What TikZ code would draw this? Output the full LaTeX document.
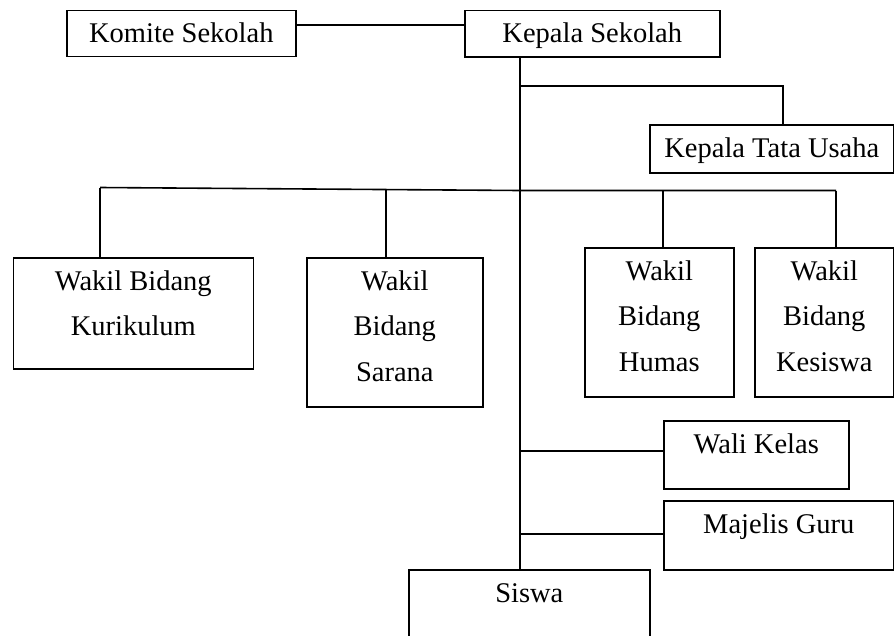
\documentclass[tikz,border=0pt]{standalone}
\usepackage{fontspec}
\setmainfont{Liberation Serif}
\begin{document}
\begin{tikzpicture}[x=1pt,y=-1pt,
  orgline/.style={line width=1.6pt,black},
  orgbox/.style={draw=black,line width=1.6pt,inner sep=0pt,anchor=north west,font=\fontsize{28.5}{45.5}\selectfont}]
\newcommand\boxtext[3]{\parbox[c][#2pt][t]{#1pt}{\centering\rule{0pt}{32.3pt}#3}}
\useasboundingbox (0,0) rectangle (894,635);
\clip (0,0) rectangle (894,635);
% boxes
\node[orgbox] (komite) at (66,9.5) {\boxtext{229}{46}{Komite Sekolah}};
\node[orgbox] (kepala) at (464,9.5) {\boxtext{255}{46.5}{Kepala Sekolah}};
\node[orgbox] (ktu) at (649,124) {\boxtext{244}{48}{Kepala Tata Usaha}};
\node[orgbox] (kur) at (12.5,257) {\boxtext{240}{111}{Wakil Bidang\\Kurikulum}};
\node[orgbox] (sar) at (306,257) {\boxtext{176}{149}{Wakil\\Bidang\\Sarana}};
\node[orgbox] (hum) at (584,247) {\boxtext{149}{149}{Wakil\\Bidang\\Humas}};
\node[orgbox] (kes) at (754,247) {\boxtext{139}{149}{Wakil\\Bidang\\Kesiswa}};
\node[orgbox] (wali) at (663,420) {\boxtext{185}{68}{Wali Kelas}};
\node[orgbox] (maj) at (663,500) {\boxtext{230}{69}{Majelis Guru}};
\node[orgbox] (sis) at (408,569) {\boxtext{241}{90}{Siswa}};
% junction coordinates
\coordinate (ktop) at ([xshift=56pt]kepala.south west);
\coordinate (jtu) at (520,86);
\coordinate (jtu2) at (783,86);
\coordinate (hl) at (100,187.5);
\coordinate (hm) at (520,190.5);
\coordinate (hs) at (386,189.5);
\coordinate (hh) at (663,190.5);
\coordinate (hk) at (836,190.5);
\coordinate (jw) at (520,451);
\coordinate (jm) at (520,534);
% connectors
\draw[orgline] ([yshift=-15.5pt]komite.north east) -- ([yshift=-15.5pt]kepala.north west);
\draw[orgline] (ktop) -- (ktop |- sis.north);
\draw[orgline] (jtu) -- (jtu2) -- (jtu2 |- ktu.north);
\draw[orgline] (hl) -- (hm) -- (hk);
\draw[orgline] (hl) -- (hl |- kur.north);
\draw[orgline] (hs) -- (hs |- sar.north);
\draw[orgline] (hh) -- (hh |- hum.north);
\draw[orgline] (hk) -- (hk |- kes.north);
\draw[orgline] (jw) -- (jw -| wali.west);
\draw[orgline] (jm) -- (jm -| maj.west);
\end{tikzpicture}
\end{document}
